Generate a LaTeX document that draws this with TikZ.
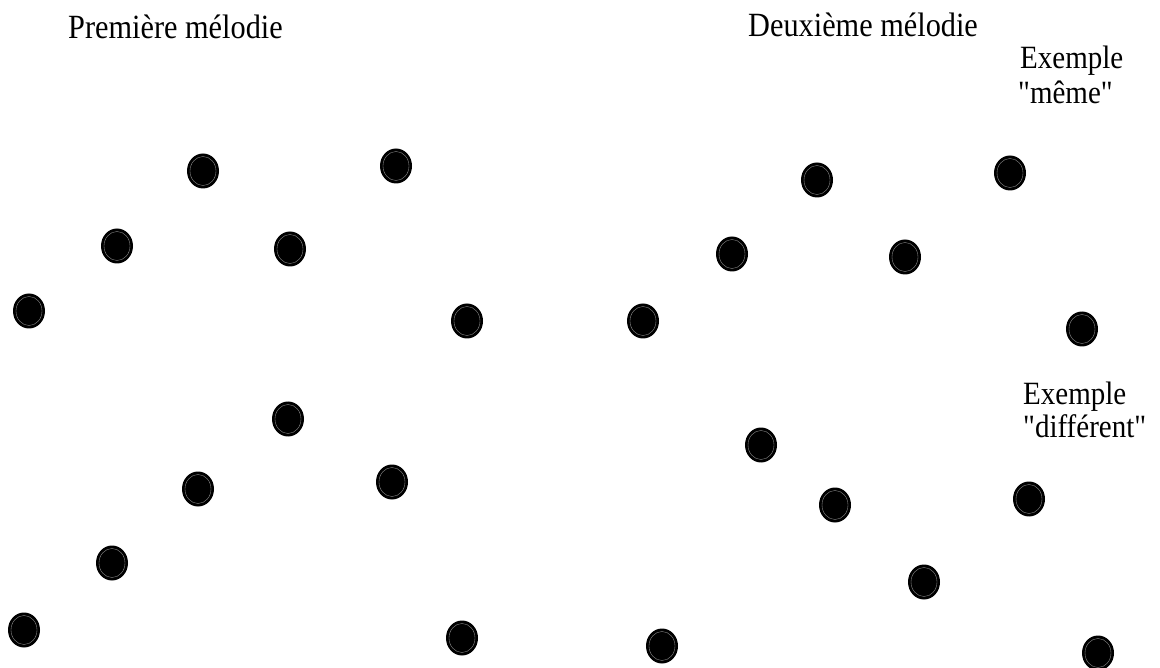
\documentclass[tikz,border=0pt]{standalone}
\usepackage{fontspec}
\setmainfont{Liberation Serif}[Ligatures=NoCommon]
\newfontfamily\plainserif{Liberation Serif}
\usetikzlibrary{shapes.geometric}
\tikzset{
  dot/.style={ellipse, fill=black, draw=none, minimum width=32pt, minimum height=35pt, inner sep=0pt,
    path picture={\draw[gray!85, line width=0.35pt] (path picture bounding box.center) ellipse (13pt and 14.5pt);}},
  lbl/.style={anchor=base west, inner sep=0pt, font=\plainserif\fontsize{30.3}{30}\selectfont}
}
\newcommand{\vtxt}[1]{\scalebox{1}[1.12]{#1}}
\begin{document}
\begin{tikzpicture}[x=1pt,y=-1pt]
\useasboundingbox (0,0) rectangle (1160,668);
\node[lbl] (t1) at (68,39) {\vtxt{Première mélodie}};
\node[lbl] (t2) at (748,37) {\vtxt{Deuxième mélodie}};
\node[lbl,font=\plainserif\fontsize{29}{30}\selectfont] (t3) at (1020,69) {\vtxt{Exemple}};
\node[lbl,font=\plainserif\fontsize{29}{30}\selectfont] (t4) at (1018,104) {\vtxt{"même"}};
\node[lbl,font=\plainserif\fontsize{29}{30}\selectfont] (t5) at (1023,405) {\vtxt{Exemple}};
\node[lbl,font=\plainserif\fontsize{29}{30}\selectfont] (t6) at (1023,438) {\vtxt{"différent"}};
% first melody
\node[dot] (a1) at (203,171) {};
\node[dot] (a2) at (396,166) {};
\node[dot] (a3) at (117,246) {};
\node[dot] (a4) at (290,249) {};
\node[dot] (a5) at (29,311) {};
\node[dot] (a6) at (467,321) {};
\node[dot] (b1) at (288,419) {};
\node[dot] (b2) at (198,489) {};
\node[dot] (b3) at (392,482) {};
\node[dot] (b4) at (112,563) {};
\node[dot] (b5) at (24,630) {};
\node[dot] (b6) at (462,638) {};
% second melody
\node[dot] (c1) at (817,180) {};
\node[dot] (c2) at (1010,173) {};
\node[dot] (c3) at (732,254) {};
\node[dot] (c4) at (905,257) {};
\node[dot] (c5) at (643,321) {};
\node[dot] (c6) at (1082,329) {};
\node[dot] (d1) at (761,445) {};
\node[dot] (d2) at (835,505) {};
\node[dot] (d3) at (1029,499) {};
\node[dot] (d4) at (924,582) {};
\node[dot] (d5) at (662,646) {};
\node[dot] (d6) at (1098,653) {};
\end{tikzpicture}
\end{document}
